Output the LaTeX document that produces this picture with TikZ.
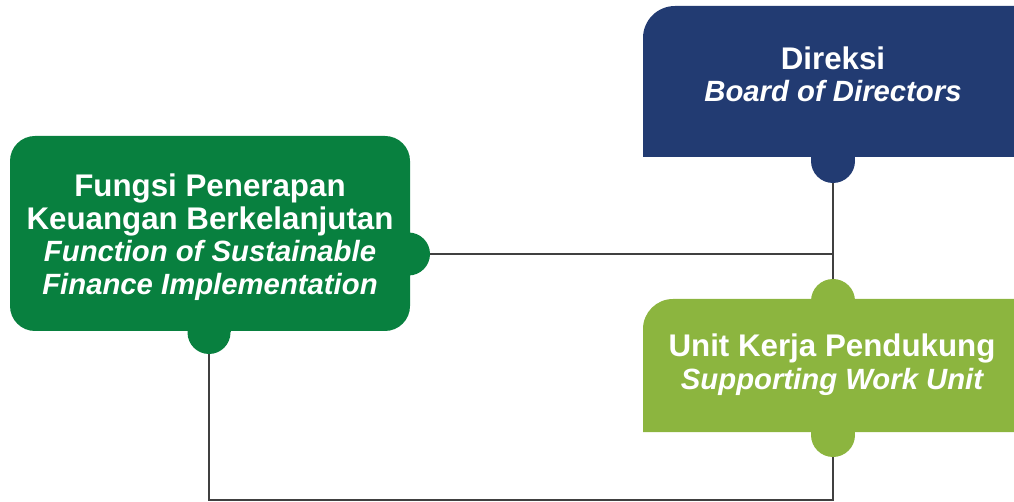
\documentclass[tikz,border=0pt]{standalone}
\usepackage{fontspec}
\setmainfont{Liberation Sans}
\definecolor{dirblue}{HTML}{223B72}
\definecolor{darkgrn}{HTML}{08803F}
\definecolor{litegrn}{HTML}{8CB53F}
\definecolor{linegray}{HTML}{404040}
\begin{document}
\begin{tikzpicture}[x=1pt,y=-1pt,
  conn/.style={draw=linegray,line width=2.7pt},
  boxtext/.style={text=white,align=center,inner sep=0pt,
    font=\fontsize{31.3}{32.5}\selectfont\bfseries}]
\useasboundingbox (0,0) rectangle (1014,502);
% connection points
\coordinate (dirT) at (833,175);
\coordinate (ukpT) at (833,290);
\coordinate (ukpB) at (833,445);
\coordinate (fspR) at (420,254);
\coordinate (fspB) at (209,345);
\coordinate (bot) at (521,500);
% connectors
\draw[conn] (dirT) -- (ukpT);
\draw[conn] (fspR) -- (fspR -| dirT);
\draw[conn] (fspB) -- (fspB |- bot) -- (ukpB |- bot) -- (ukpB);
% Direksi box
\fill[dirblue] (643,157) [rounded corners=32pt] -- (643,6) [sharp corners] -- (1014,6) -- (1014,157) -- cycle;
\fill[dirblue] (811,150) rectangle (855,161);
\fill[dirblue] (833,161) circle[radius=22pt];
% Fungsi box
\fill[darkgrn,rounded corners=25pt] (10,136) rectangle (410,331);
\fill[darkgrn] (400,232.5) rectangle (408.5,275.5);
\fill[darkgrn] (408.5,254) circle[radius=21.5pt];
\fill[darkgrn] (187.5,320) rectangle (230.5,332.5);
\fill[darkgrn] (209,332.5) circle[radius=21.5pt];
% Unit box
\fill[litegrn] (643,432) [rounded corners=30pt] -- (643,299) [sharp corners] -- (1014,299) -- (1014,432) -- cycle;
\fill[litegrn] (833,301) circle[radius=22pt];
\fill[litegrn] (811,301) rectangle (855,310);
\fill[litegrn] (833,435) circle[radius=22pt];
\fill[litegrn] (811,425) rectangle (855,435);
% texts
\node[boxtext] (dir) at (833,74.5) {Direksi\\{\fontsize{29.3}{32.5}\selectfont\itshape Board of Directors}};
\node[boxtext] (fsp) at (210,237) {Fungsi Penerapan\\Keuangan Berkelanjutan\\{\fontsize{29.3}{32.5}\selectfont\itshape Function of Sustainable}\\{\fontsize{29.3}{32.5}\selectfont\itshape Finance Implementation}};
\node[boxtext] (ukp) at (832,364.5) {Unit Kerja Pendukung\\{\fontsize{29.3}{32.5}\selectfont\itshape Supporting Work Unit}};
\end{tikzpicture}
\end{document}
